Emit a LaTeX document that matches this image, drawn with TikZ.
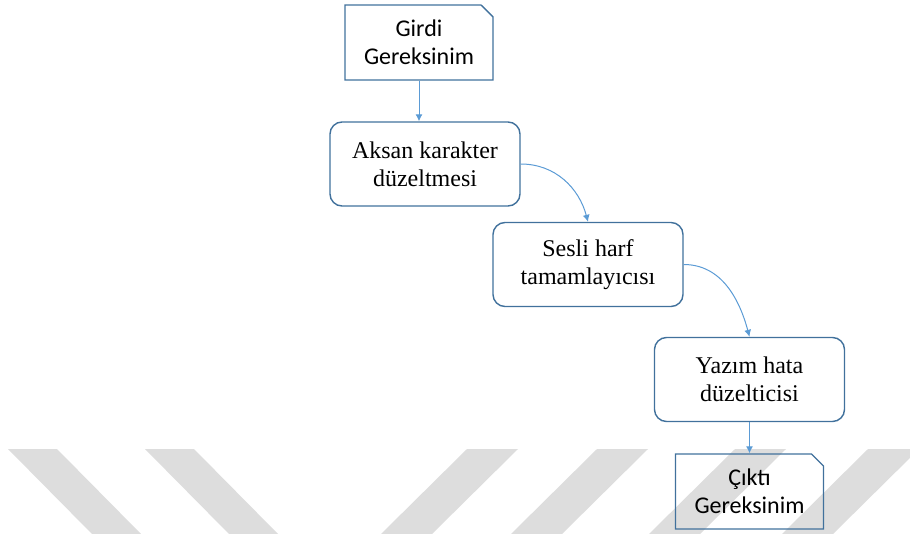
\documentclass[tikz,border=0pt]{standalone}
\usepackage{fontspec}
\setmainfont{Liberation Serif}
\newfontfamily\calibri{Carlito}
\usetikzlibrary{arrows.meta,shapes.misc}
\definecolor{boxblue}{HTML}{41719C}
\definecolor{linkblue}{HTML}{5B9BD5}
\definecolor{wmark}{HTML}{DDDDDD}

\begin{document}
\begin{tikzpicture}[x=0.5pt,y=-0.5pt,
	io/.style={draw=boxblue,line width=0.7pt,chamfered rectangle,chamfered rectangle corners=north east,chamfered rectangle xsep=2.75pt,chamfered rectangle ysep=3.25pt,minimum width=74pt,minimum height=37.5pt,inner sep=0pt,align=center,font=\calibri\fontsize{12}{14}\selectfont},
	process/.style={draw=boxblue,line width=0.7pt,rounded corners=6pt,minimum width=95pt,minimum height=42pt,inner sep=0pt,align=center,font=\fontsize{12}{14}\selectfont},
	link/.style={draw=linkblue,line width=0.5pt,-{Latex[length=3.5pt,width=3.5pt]}}]
	\useasboundingbox (0,0) rectangle (910,534);
	\begin{scope}
		\clip (0,0) rectangle (910,534);
		\foreach \s in {8,145}{
			\fill[wmark] (\s,449) -- ++(49,0) -- ++(84,85) -- ++(-49,0) -- cycle;}
		\foreach \s in {467,597,735,868}{
			\fill[wmark] (\s,449) -- ++(51,0) -- ++(-86,85) -- ++(-51,0) -- cycle;}
	\end{scope}
	\node[io] (girdi) at (419,42.5) {Girdi\\Gereksinim};
	\node[process] (aksan) at (425,164) {Aksan karakter\\düzeltmesi};
	\node[process] (sesli) at (588,264.5) {Sesli harf\\tamamlayıcısı};
	\node[process] (yazim) at (749.5,379.5) {Yazım hata\\düzelticisi};
	\node[io] (cikti) at (749.5,491.5) {Çıktı\\Gereksinim};
	\draw[link] (girdi.south) -- (girdi.south |- aksan.north);
	\draw[link] (aksan.east) to[out=0,in=105] (sesli.north);
	\draw[link] (sesli.east) to[out=0,in=105] (yazim.north);
	\draw[link] (yazim.south) -- (cikti.north);
\end{tikzpicture}
\end{document}
